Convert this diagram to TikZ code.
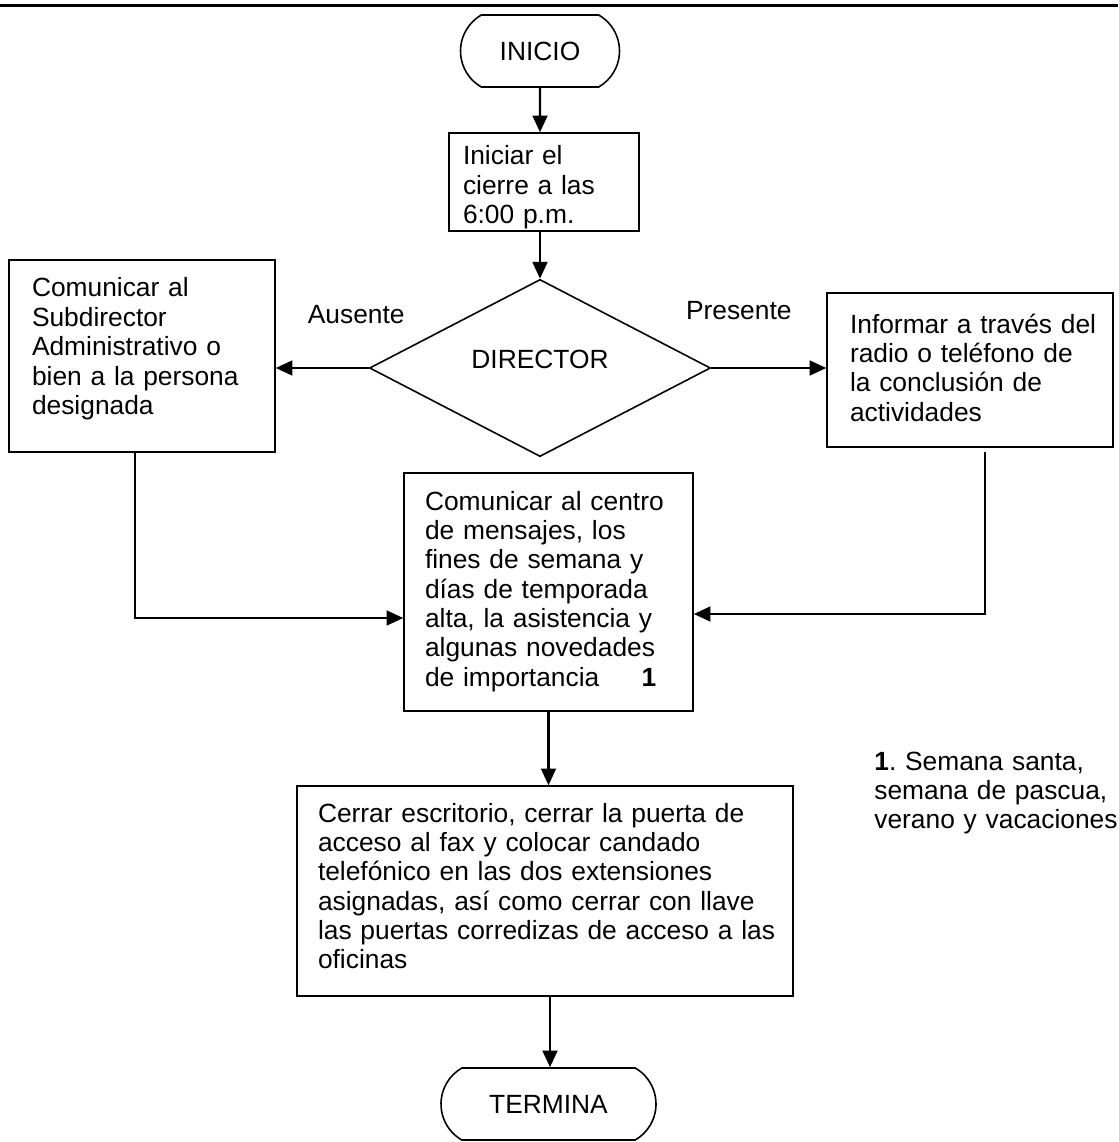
\documentclass[tikz,border=0pt]{standalone}
\usepackage{fontspec}
\setmainfont{Liberation Sans}
\usetikzlibrary{shapes.geometric, shapes.misc, arrows.meta}
\tikzstyle{startstop} = [rounded rectangle, rounded rectangle arc length=120, minimum height=1.44cm, inner sep=0pt, draw=black, line width=0.9pt]
\tikzstyle{decision} = [diamond, minimum width=6.82cm, minimum height=2.5cm, inner sep=0pt, text height=0.4cm, text depth=0.4cm, draw=black, line width=0.9pt]
\tikzset{process/.style={rectangle, inner sep=0pt, align=left, draw=black, line width=0.9pt, execute at begin node={\leftskip=#1\relax\rightskip=0pt plus 1fil minus 1cm\relax}}}
\tikzstyle{arrow} = [line width=1.2pt, -{Triangle[length=9.5pt, width=8.5pt]}]

\begin{document}
\begin{tikzpicture}[node distance=2cm, font=\fontsize{15}{16.7}\selectfont\frenchspacing]
	\useasboundingbox (0,0) rectangle (22.36,-22.84);
	\draw [line width=1.4pt] (0,-0.11) -- (22.36,-0.11);
	
	\node (inicio) [startstop, minimum width=3.18cm] at (10.80,-1.02) {INICIO};
	\node (cierre) [process=0.28cm, text width=3.8cm, text height=0.64cm, text depth=1.32cm, below of=inicio, xshift=0.08cm, yshift=-0.62cm] {Iniciar el\\cierre a las\\6:00 p.m.};
	\node (director) [decision, below of=cierre, xshift=-0.08cm, yshift=-1.72cm] {DIRECTOR};
	\node (subdir) [process=0.46cm, text width=5.32cm, text height=0.74cm, text depth=3.10cm, left of=director, xshift=-5.96cm, yshift=0.24cm] {Comunicar al\\Subdirector\\Administrativo o\\bien a la persona\\designada};
	\node (informar) [process=0.46cm, text width=5.72cm, text height=0.8cm, text depth=2.28cm, right of=director, xshift=6.6cm, yshift=-0.04cm] {Informar a través del\\radio o teléfono de\\la conclusión de\\actividades};
	\node (centro) [process=0.42cm, text width=5.78cm, text height=0.74cm, text depth=4.02cm, below of=director, xshift=0.17cm, yshift=-2.48cm] {Comunicar al centro\\de mensajes, los\\fines de semana y\\días de temporada\\alta, la asistencia y\\algunas novedades\\de importancia\hspace{1.6em}\textbf{1}};
	\node (cerrar) [process=0.42cm, text width=9.92cm, text height=0.72cm, text depth=3.48cm, below of=centro, xshift=-0.07cm, yshift=-3.98cm] {Cerrar escritorio, cerrar la puerta de\\acceso al fax y colocar candado\\telefónico en las dos extensiones\\asignadas, así como cerrar con llave\\las puertas corredizas de acceso a las\\oficinas};
	\node (termina) [startstop, minimum width=4.3cm, below of=cerrar, xshift=0.07cm, yshift=-2.26cm] {TERMINA};
	\node (nota) [anchor=base west, text width=4.88cm, inner sep=0pt, align=left] at (17.48,-15.40) {\textbf{1}. Semana santa,\\semana de pascua,\\verano y vacaciones};
	
	\draw [arrow] (inicio) -- (inicio |- cierre.north);
	\draw [arrow] (director.north |- cierre.south) -- (director);
	\draw [arrow] (director) -- node[anchor=base, xshift=0.68cm, yshift=0.88cm] {Ausente} (director.west -| subdir.east);
	\draw [arrow] (director) -- node[anchor=base, xshift=-0.6cm, yshift=0.96cm] {Presente} (director.east -| informar.west);
	\draw [arrow] ([xshift=-0.14cm]subdir.south) |- ([yshift=-0.52cm]centro.west);
	\draw [arrow, shorten <=0.08cm] ([xshift=0.3cm]informar.south) |- ([yshift=-0.44cm]centro.east);
	\draw [arrow] (centro) -- (centro |- cerrar.north);
	\draw [arrow] ([xshift=0.1cm]cerrar.south) -- ([xshift=0.1cm]cerrar.south |- termina.north);
	
\end{tikzpicture}
\end{document}
